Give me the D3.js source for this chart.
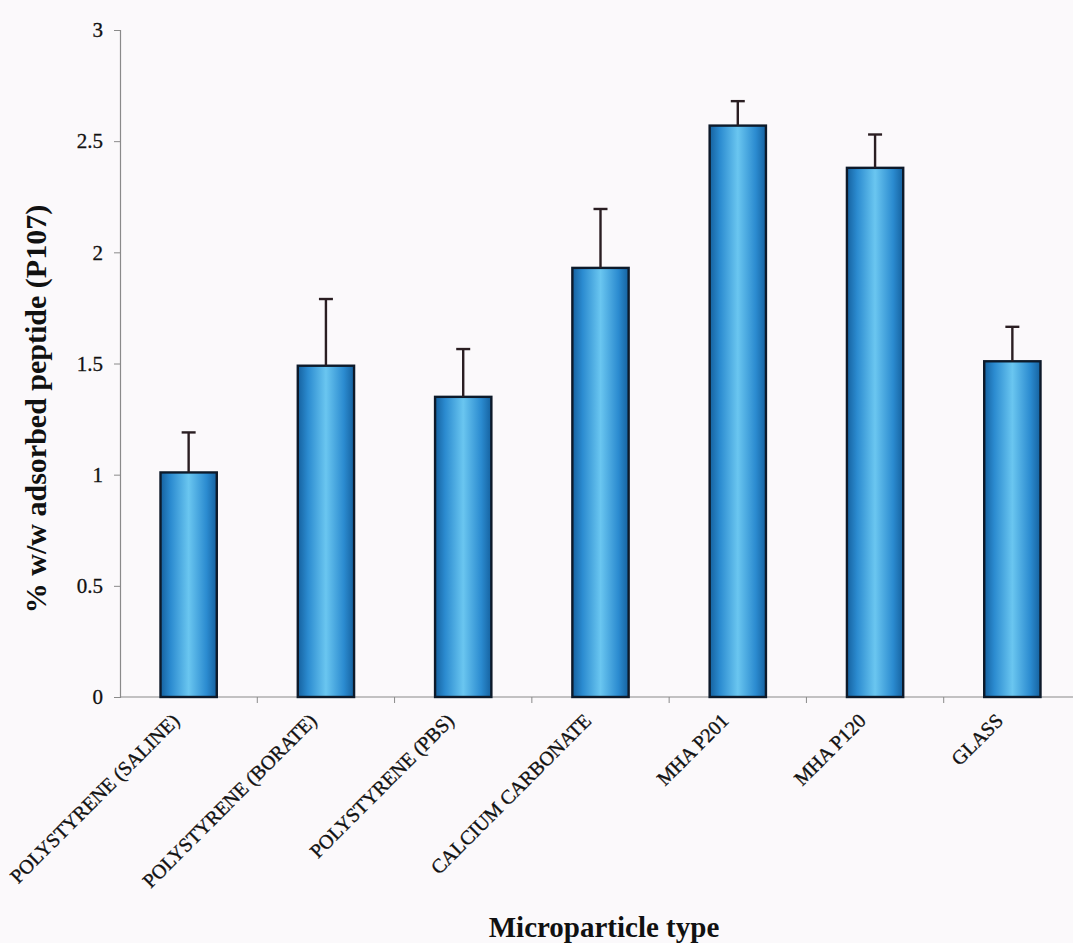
<!DOCTYPE html>
<html>
<head>
<meta charset="utf-8">
<script src="https://cdn.jsdelivr.net/npm/d3@7"></script>
<style>
  html, body { margin: 0; padding: 0; background: #fbf9fb; }
  svg { display: block; }
</style>
</head>
<body>
<svg id="chart" width="1073" height="943"></svg>
<script>
// Microparticle types along the x axis
const categories = [
  "POLYSTYRENE (SALINE)",
  "POLYSTYRENE (BORATE)",
  "POLYSTYRENE (PBS)",
  "CALCIUM CARBONATE",
  "MHA P201",
  "MHA P120",
  "GLASS"
];
// Mean % w/w adsorbed peptide (P107)
const values = [1.01, 1.49, 1.35, 1.93, 2.57, 2.38, 1.51];
// Upper error (standard deviation)
const errors = [0.18, 0.30, 0.215, 0.265, 0.11, 0.15, 0.155];
// Y axis ticks
const yTicks = [0, 0.5, 1, 1.5, 2, 2.5, 3];

const svg = d3.select("#chart");
const margin = { left: 120, top: 30, bottom: 246 };
const plotRight = 1081;
const plotBottom = 943 - margin.bottom;

const x = d3.scaleBand()
  .domain(categories)
  .range([margin.left, plotRight])
  .paddingInner(0.59)
  .paddingOuter(0.295);

const y = d3.scaleLinear().domain([0, 3]).range([plotBottom, margin.top]);

// Bar gradient: dark edges, light centre
const defs = svg.append("defs");
const grad = defs.append("linearGradient").attr("id", "barGrad")
  .attr("x1", "0%").attr("x2", "100%").attr("y1", "0%").attr("y2", "0%");
[[0, "#15619f"], [0.18, "#2b8bd0"], [0.5, "#6ac6f0"], [0.82, "#2b8bd0"], [1, "#15619f"]]
  .forEach(([o, c]) => grad.append("stop").attr("offset", o).attr("stop-color", c));

const serif = "'Liberation Serif', 'Times New Roman', serif";

// Y axis
const yAxis = svg.append("g")
  .attr("transform", `translate(${margin.left},0)`)
  .call(d3.axisLeft(y).tickValues(yTicks).tickSize(6).tickPadding(11).tickFormat(d3.format("")));
yAxis.select(".domain").attr("stroke", "#8a8a8a").attr("stroke-width", 1.2);
yAxis.selectAll(".tick line").attr("stroke", "#8a8a8a");
yAxis.selectAll(".tick text")
  .attr("font-family", serif).attr("font-size", 21).attr("fill", "#111")
  .attr("stroke", "#111").attr("stroke-width", 0.3);

// X axis: ticks sit on band boundaries
const boundaries = d3.range(categories.length + 1).map(i => margin.left + i * x.step());
svg.append("line")
  .attr("x1", margin.left).attr("x2", plotRight)
  .attr("y1", plotBottom).attr("y2", plotBottom)
  .attr("stroke", "#8a8a8a").attr("stroke-width", 1.2);
svg.append("g").selectAll("line")
  .data(boundaries.slice(1))
  .join("line")
  .attr("x1", d => d).attr("x2", d => d)
  .attr("y1", plotBottom).attr("y2", plotBottom + 6)
  .attr("stroke", "#8a8a8a");

// Bars
const data = categories.map((c, i) => ({ c, v: values[i], e: errors[i] }));
svg.append("g").selectAll("rect")
  .data(data)
  .join("rect")
  .attr("x", d => x(d.c))
  .attr("y", d => y(d.v))
  .attr("width", x.bandwidth())
  .attr("height", d => y(0) - y(d.v))
  .attr("fill", "url(#barGrad)")
  .attr("stroke", "#0d1a2a")
  .attr("stroke-width", 2.4);

// Upper error bars
const eg = svg.append("g").attr("stroke", "#2a1e22").attr("stroke-width", 2.4);
eg.selectAll(".stem").data(data).join("line").attr("class", "stem")
  .attr("x1", d => x(d.c) + x.bandwidth() / 2)
  .attr("x2", d => x(d.c) + x.bandwidth() / 2)
  .attr("y1", d => y(d.v))
  .attr("y2", d => y(d.v + d.e));
eg.selectAll(".cap").data(data).join("line").attr("class", "cap")
  .attr("x1", d => x(d.c) + x.bandwidth() / 2 - 7)
  .attr("x2", d => x(d.c) + x.bandwidth() / 2 + 7)
  .attr("y1", d => y(d.v + d.e))
  .attr("y2", d => y(d.v + d.e));

// Rotated category labels
svg.append("g").selectAll("text")
  .data(categories)
  .join("text")
  .attr("transform", d => `translate(${x(d) + x.bandwidth() / 2 - 8},${plotBottom + 25}) rotate(-45)`)
  .attr("text-anchor", "end")
  .attr("font-family", serif)
  .attr("font-size", 20)
  .attr("fill", "#111")
  .attr("stroke", "#111")
  .attr("stroke-width", 0.35)
  .text(d => d);

// Axis titles
svg.append("text")
  .attr("transform", `translate(46,409) rotate(-90)`)
  .attr("text-anchor", "middle")
  .attr("font-family", serif)
  .attr("font-weight", "bold")
  .attr("font-size", 30)
  .attr("fill", "#111")
  .text("% w/w adsorbed peptide (P107)");

svg.append("text")
  .attr("x", 604)
  .attr("y", 937)
  .attr("text-anchor", "middle")
  .attr("font-family", serif)
  .attr("font-weight", "bold")
  .attr("font-size", 29)
  .attr("fill", "#111")
  .text("Microparticle type");
</script>
</body>
</html>
